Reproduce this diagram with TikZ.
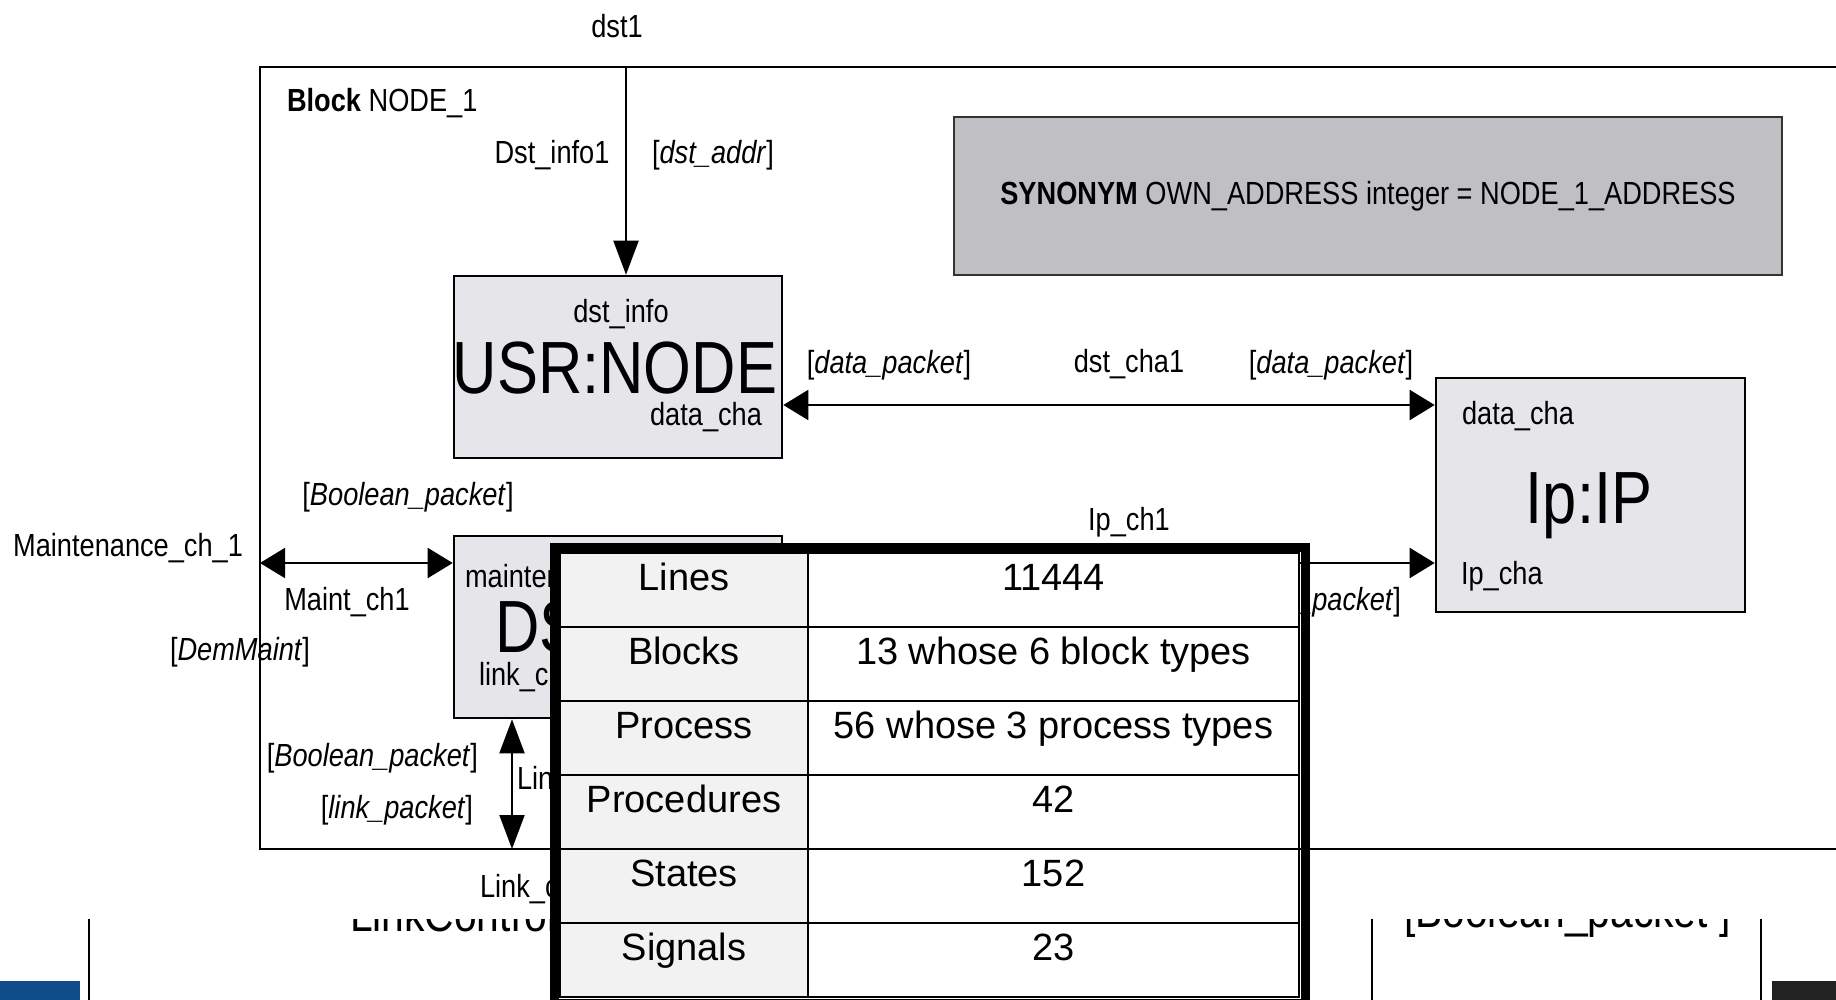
\documentclass[tikz,border=0pt]{standalone}
\usepackage{fontspec}
\newfontfamily\sdlfont[FakeStretch=0.85]{Liberation Sans}
\newfontfamily\sdlbigfont[FakeStretch=0.83]{Liberation Sans}
\newfontfamily\tabfont{Liberation Sans}
\usetikzlibrary{arrows.meta, fit}
\definecolor{cbox}{HTML}{E6E6EA}
\definecolor{csyn}{HTML}{C0C0C4}
\definecolor{ckey}{HTML}{F2F2F2}
\definecolor{cbar}{HTML}{0F4C8A}
\definecolor{cdark}{HTML}{222222}
\tikzset{
  every picture/.style={line width=1pt},
  htip/.tip={Triangle[length=12.5pt, width=15pt]},
  vtip/.tip={Triangle[length=17pt, width=12.5pt]},
  lbl/.style={font=\sdlfont\fontsize{16}{19}\selectfont, inner sep=0pt},
  biglbl/.style={font=\sdlbigfont\fontsize{37}{40}\selectfont, inner sep=0pt},
  lowlbl/.style={font=\sdlfont\fontsize{24}{28}\selectfont, inner sep=0pt},
  blk/.style={draw, fill=cbox, line width=1.3pt},
  synbox/.style={draw=black!80, fill=csyn, line width=1pt, font=\sdlfont\fontsize{16}{19}\selectfont},
  link/.style={line width=1pt},
  cell/.style={draw, line width=1pt, inner sep=0pt, text height=18.75pt, text depth=18.25pt, font=\tabfont\fontsize{19}{22}\selectfont},
  keycell/.style={cell, fill=ckey, minimum width=124pt},
  valcell/.style={cell, fill=white, minimum width=245.5pt},
  frame/.style={draw, line width=4.5pt, inner sep=2.5pt},
}

\begin{document}
\begin{tikzpicture}[x=0.5pt, y=-0.5pt]
  \clip (0,0) rectangle (1836,1000);
  \fill[white] (0,0) rectangle (1836,1000);
  % block NODE_1
  \node[draw, line width=1pt, minimum width=800pt, minimum height=391pt] (nodeblk) at (1060,458) {};
  \node[lbl, anchor=west] (blkname) at (286,103) {\textbf{Block} NODE\_1};
  \node[synbox, minimum width=414pt, minimum height=79pt] (syn) at (1368,196) {\textbf{SYNONYM} OWN\_ADDRESS integer = NODE\_1\_ADDRESS};
  % processes
  \node[blk, minimum width=164pt, minimum height=91pt] (usr) at (618,367) {};
  \node[lbl] (usrin) at (621,314) {dst\_info};
  \node[biglbl] (usrname) at (615,368) {USR:NODE};
  \node[lbl, anchor=east] (usrout) at (763,417) {data\_cha};
  \node[blk, minimum width=164pt, minimum height=91pt] (ds) at (618,627) {};
  \node[lbl, anchor=west] (dsin) at (464,576) {maintenance};
  \node[biglbl, anchor=west] (dsname) at (494,627) {DS};
  \node[lbl, anchor=west] (dsout) at (478,677) {link\_cha};
  \node[blk, minimum width=154.5pt, minimum height=117pt] (ipip) at (1590.5,495) {};
  \node[lbl, anchor=west] (ipin) at (1461,416) {data\_cha};
  \node[biglbl] (ipname) at (1589,506) {Ip:IP};
  \node[lbl, anchor=west] (ipout) at (1460,576) {Ip\_cha};
  % channels
  \coordinate (dstin) at (626,67);
  \draw[link, -vtip] (dstin) -- (dstin |- usr.north);
  \node[lbl] (dst) at (617,26) {dst1};
  \node[lbl] (dstname) at (552,155) {Dst\_info1};
  \node[lbl] (dstsig) at (713,155) {[\textit{dst\_addr}]};
  \coordinate (dcha) at (1100,405);
  \draw[link, htip-htip] (usr.east |- dcha) -- (ipip.west |- dcha);
  \node[lbl] (dchasig1) at (889,365) {[\textit{data\_packet}]};
  \node[lbl] (dchaname) at (1129,364) {dst\_cha1};
  \node[lbl] (dchasig2) at (1331,365) {[\textit{data\_packet}]};
  \coordinate (ipch) at (1100,563);
  \draw[link, -htip] (ds.east |- ipch) -- (ipip.west |- ipch);
  \node[lbl] (ipchname) at (1129,522) {Ip\_ch1};
  \node[lbl, anchor=east] (ipchsig) at (1402,602) {[\textit{data\_packet}]};
  \coordinate (maintout) at (260,563);
  \draw[link, htip-htip] (maintout) -- (maintout -| ds.west);
  \node[lbl, anchor=east] (maintext) at (244,548) {Maintenance\_ch\_1};
  \node[lbl] (maintsig1) at (408,497) {[\textit{Boolean\_packet}]};
  \node[lbl] (maintname) at (347,602) {Maint\_ch1};
  \node[lbl] (maintsig2) at (240,652) {[\textit{DemMaint}]};
  \coordinate (linkout) at (512,849);
  \draw[link, vtip-vtip] (linkout |- ds.south) -- (linkout);
  \node[lbl, anchor=east] (linksig1) at (479,758) {[\textit{Boolean\_packet}]};
  \node[lbl, anchor=east] (linksig2) at (474,810) {[\textit{link\_packet}]};
  \node[lbl, anchor=west] (linkname) at (516,781) {Link\_ch1};
  \node[lbl, anchor=west] (linkext) at (479,889) {Link\_ch};
  % next screen, cut off
  \begin{scope}
    \clip (0,919) rectangle (1836,1000);
    \node[lowlbl, anchor=base west] (lnkctl) at (349,931) {LinkControl};
    \node[lowlbl, anchor=base west] (lowbool) at (1403,927) {[Boolean\_packet ]};
  \end{scope}
  \draw (89,919) -- (89,1000);
  \draw (1372,919) -- (1372,1000);
  \draw (1761,919) -- (1761,1000);
  \fill[cbar] (0,981) rectangle (80,1000);
  \fill[cdark] (1772,981) rectangle (1836,1000);
  % figures
  \foreach \k/\v [count=\i] in {Lines/11444, Blocks/13 whose 6 block types, Process/56 whose 3 process types, Procedures/42, States/152, Signals/23} {
    \node[keycell] (k\i) at (684, 516+74*\i) {\k};
    \node[valcell] (v\i) at (1053.5, 516+74*\i) {\v};
  }
  \node[frame, fit=(k1) (v6)] (tbl) {};
\end{tikzpicture}
\end{document}
